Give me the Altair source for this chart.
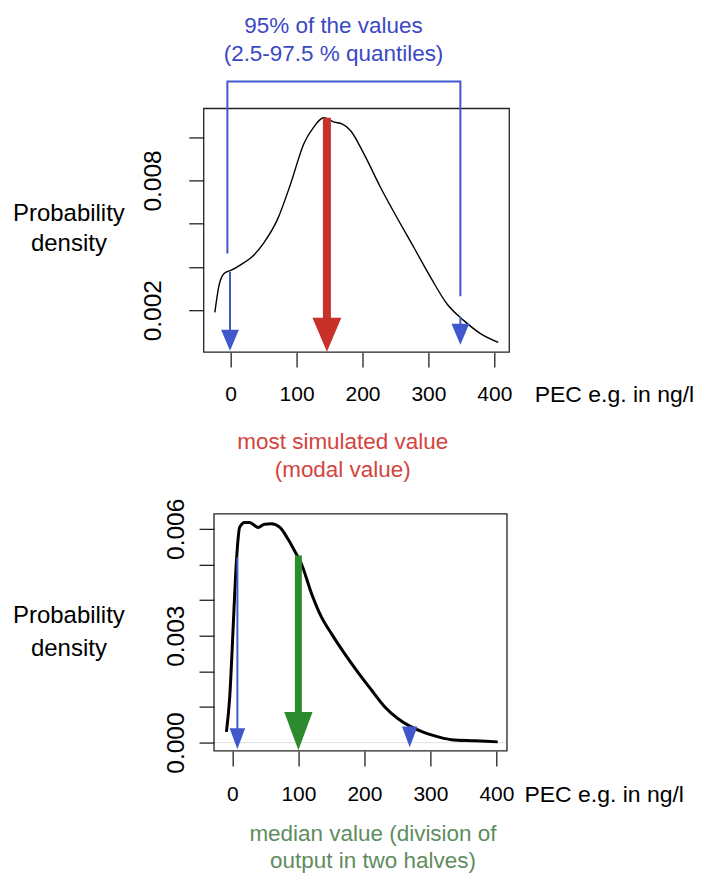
import altair as alt
import pandas as pd

# ---------------- data ----------------
# upper panel: density curve
top_x = [-24, -18, -10, 1, 15, 35, 50, 71, 91, 111, 126, 141, 157, 169, 182, 202,
         227, 252, 278, 303, 328, 353, 379, 406]
top_y = [0.0019, 0.0031, 0.0037, 0.00385, 0.0041, 0.00454, 0.0051, 0.0062, 0.00785,
         0.0097, 0.01047, 0.0109, 0.0107, 0.01062, 0.0103, 0.00924, 0.0077, 0.0063,
         0.0049, 0.00354, 0.0023, 0.00154, 0.00092, 0.00051]

# lower panel: density curve
bot_x = [-9, -4, 1, 4.5, 7.6, 11, 18.7, 26, 39, 49, 59, 72, 84, 94, 104.5, 120, 135,
         150, 170, 190, 211, 231, 251, 271, 291, 312, 332, 367, 402]
bot_y = [0.0003, 0.00128, 0.00315, 0.00455, 0.00548, 0.00604, 0.00618, 0.00618,
         0.00604, 0.00613, 0.00614, 0.00604, 0.00572, 0.00539, 0.00502, 0.00418,
         0.00352, 0.00306, 0.0025, 0.00198, 0.00147, 0.001, 0.00067, 0.00044,
         0.00028, 0.00016, 0.00008, 0.00005, 0.00002]

# upper panel: 2.5 / 97.5 % quantile arrows
top_q_x = [-1, 348.5]
top_q_from = [0.00377, 0.00169]
top_q_to = [0.00105, 0.00135]
top_q_head = [0.00061, 0.00089]

# upper panel: modal value arrow
top_mode_x = [146]
top_mode_from = [0.0109]
top_mode_to = [0.0013]
top_mode_head = [0.00086]

# bracket spanning the 95 % interval
bracket_x = [-5, -5, 348.5, 348.5]
bracket_y = [0.00462, 0.01258, 0.01258, 0.00265]

blue_lines = ["95% of the values", "(2.5-97.5 % quantiles)"]
blue_x = [156, 156]
blue_y = [0.01516, 0.01387]

red_lines = ["most simulated value", "(modal value)"]
red_x = [170, 170]
red_y = [-0.0041, -0.00539]

# lower panel: quantile arrows
bot_q_x = [7.6, 268.7]
bot_q_from = [0.0052, 0.00046]
bot_q_to = [0.00032, 0.00030]
bot_q_head = [0.00011, 0.00016]

# lower panel: median arrow
bot_med_x = [100]
bot_med_from = [0.00525]
bot_med_to = [0.0007]
bot_med_head = [0.00032]

green_lines = ["median value (division of", "output in two halves)"]
green_x = [213, 213]
green_y = [-0.00257, -0.00333]

x_ticks = [0, 100, 200, 300, 400]
top_y_ticks = [0.002, 0.004, 0.006, 0.008, 0.010]
top_y_labelled = [0.002, 0.008]
bot_y_ticks = [0.000, 0.001, 0.002, 0.003, 0.004, 0.005, 0.006]
bot_y_labelled = [0.000, 0.003, 0.006]

# plotting-region limits (the drawn frame) of each panel
top_frame_x = [-40.9, 422.7]
top_frame_y = [0.00006, 0.01133]
bot_frame_x = [-27.8, 416.0]
bot_frame_y = [-0.000235, 0.00642]
bot_view_x = [-43.4, 416.0]

x_title = "PEC e.g. in ng/l"
y_title = ["Probability", "density"]

FONT = "Liberation Sans"
BLUE = "#4058cc"
BLUE_TXT = "#3a48c4"
RED = "#c8302a"
RED_TXT = "#d2443e"
GREEN = "#2e8a2e"
GREEN_TXT = "#5f8c5f"
FRAME = "#222222"
HEAD = "M-0.85,-1L0.85,-1L0,1Z"
HEAD_NARROW = "M-0.74,-1L0.74,-1L0,1Z"


def label_expr(vals):
    cond = " || ".join(f"abs(datum.value - {v}) < 1e-9" for v in vals)
    return f"({cond}) ? format(datum.value, '.3f') : ''"


AX_COMMON = dict(grid=False, domain=False, ticks=True, tickColor=FRAME,
                 tickWidth=1.3, tickSize=15, labelColor="black",
                 titleColor="black", labelFont=FONT, titleFont=FONT,
                 titleFontWeight="normal", labelFontWeight="normal",
                 labelOverlap=False, labelFlush=False, labelBound=False)


def panel(xdom, ydom, yticks, ylab, xlab_pad, ylab_pad,
          ytitle_x, ytitle_y, ytitle_lh, xtitle_x, xtitle_y, yoffset):
    X = alt.X("x:Q",
              scale=alt.Scale(domain=xdom, nice=False, zero=False),
              axis=alt.Axis(values=x_ticks, format="d", labelFontSize=21,
                            labelBaseline="middle", labelPadding=xlab_pad,
                            title=x_title, titleFontSize=23, titleX=xtitle_x,
                            titleY=xtitle_y, titleAlign="left",
                            titleBaseline="middle", **AX_COMMON))
    Y = alt.Y("y:Q",
              scale=alt.Scale(domain=ydom, nice=False, zero=False),
              axis=alt.Axis(values=yticks, labelExpr=label_expr(ylab),
                            labelFontSize=24.5, labelAngle=270,
                            labelAlign="center", labelBaseline="middle",
                            labelPadding=ylab_pad, title=y_title,
                            titleFontSize=24, titleAngle=0,
                            titleAlign="center", titleBaseline="middle",
                            titleX=ytitle_x, titleY=ytitle_y,
                            titleLineHeight=ytitle_lh, offset=yoffset,
                            **AX_COMMON))
    return X, Y


def frame_layer(X, Y, fx, fy):
    df = pd.DataFrame({"x": [fx[0]], "x2": [fx[1]], "y": [fy[0]], "y2": [fy[1]]})
    return alt.Chart(df).mark_rect(filled=False, stroke=FRAME, strokeWidth=1.3).encode(
        x=X, x2="x2:Q", y=Y, y2="y2:Q")


def arrow_layers(X, Y, xs, y_from, y_to, y_head, color, stroke, size, shape):
    shaft = alt.Chart(pd.DataFrame({"x": xs, "y": y_from, "y2": y_to})).mark_rule(
        color=color, strokeWidth=stroke).encode(x=X, y=Y, y2="y2:Q")
    head = alt.Chart(pd.DataFrame({"x": xs, "y": y_head})).mark_point(
        shape=shape, filled=True, opacity=1, color=color, size=size,
        strokeWidth=0).encode(x=X, y=Y)
    return [shaft, head]


def text_layer(X, Y, xs, ys, lines, color):
    return alt.Chart(pd.DataFrame({"x": xs, "y": ys, "t": lines})).mark_text(
        font=FONT, fontSize=22.5, color=color, align="center",
        baseline="middle").encode(x=X, y=Y, text="t:N")


# ---------------- upper panel ----------------
Xt, Yt = panel(top_frame_x, top_frame_y, top_y_ticks, top_y_labelled,
               27, 35, -135.5, 105, 30, 331, 42, 0)

top_curve = alt.Chart(pd.DataFrame({"x": top_x, "y": top_y})).mark_line(
    color="black", strokeWidth=1.4, interpolate="monotone").encode(x=Xt, y=Yt)
bracket = alt.Chart(pd.DataFrame({"x": bracket_x, "y": bracket_y,
                                  "o": list(range(len(bracket_x)))})).mark_line(
    color=BLUE, strokeWidth=2).encode(x=Xt, y=Yt, order="o:Q")

top_layers = [frame_layer(Xt, Yt, top_frame_x, top_frame_y), top_curve, bracket]
top_layers += arrow_layers(Xt, Yt, top_q_x, top_q_from, top_q_to, top_q_head,
                           BLUE, 2, 440, HEAD)
top_layers += arrow_layers(Xt, Yt, top_mode_x, top_mode_from, top_mode_to,
                           top_mode_head, RED, 8, 1156, HEAD)
top_layers.append(text_layer(Xt, Yt, blue_x, blue_y, blue_lines, BLUE_TXT))
top_layers.append(text_layer(Xt, Yt, red_x, red_y, red_lines, RED_TXT))

top = alt.layer(*top_layers).properties(width=306, height=244)

# ---------------- lower panel ----------------
# the view starts 10 px further left than the frame, so the y axis is moved in
Xb, Yb = panel(bot_view_x, bot_frame_y, bot_y_ticks, bot_y_labelled,
               29, 23, -145.8, 101.7, 33, 320.7, 44, -10.3)

zero_line = alt.Chart(pd.DataFrame({"x": [bot_frame_x[0]], "x2": [bot_frame_x[1]],
                                    "y": [0.0]})).mark_rule(
    color="#e2e2e2", strokeWidth=1).encode(x=Xb, x2="x2:Q", y=Yb)
bot_curve = alt.Chart(pd.DataFrame({"x": bot_x, "y": bot_y})).mark_line(
    color="black", strokeWidth=3, interpolate="monotone").encode(x=Xb, y=Yb)

bot_layers = [zero_line, frame_layer(Xb, Yb, bot_frame_x, bot_frame_y), bot_curve]
bot_layers += arrow_layers(Xb, Yb, bot_q_x, bot_q_from, bot_q_to, bot_q_head,
                           BLUE, 2, 441, HEAD_NARROW)
bot_layers += arrow_layers(Xb, Yb, bot_med_x, bot_med_from, bot_med_to,
                           bot_med_head, GREEN, 7, 1467, HEAD_NARROW)
bot_layers.append(text_layer(Xb, Yb, green_x, green_y, green_lines, GREEN_TXT))

bottom = alt.layer(*bot_layers).properties(width=303.7, height=237.4)

chart = alt.concat(top, bottom, columns=1, spacing=16).resolve_scale(
    x="independent", y="independent"
).properties(
    padding={"left": 4, "top": 6, "right": 5, "bottom": 5},
    background="white"
).configure(
    font=FONT
).configure_view(
    stroke=None
).configure_axis(
    grid=False, domain=False, tickColor=FRAME, tickWidth=1.3, tickSize=15,
    labelColor="black", titleColor="black", labelFont=FONT, titleFont=FONT,
    titleFontWeight="normal"
)

chart.save("out.html", embed_options={"renderer": "svg", "actions": False})
